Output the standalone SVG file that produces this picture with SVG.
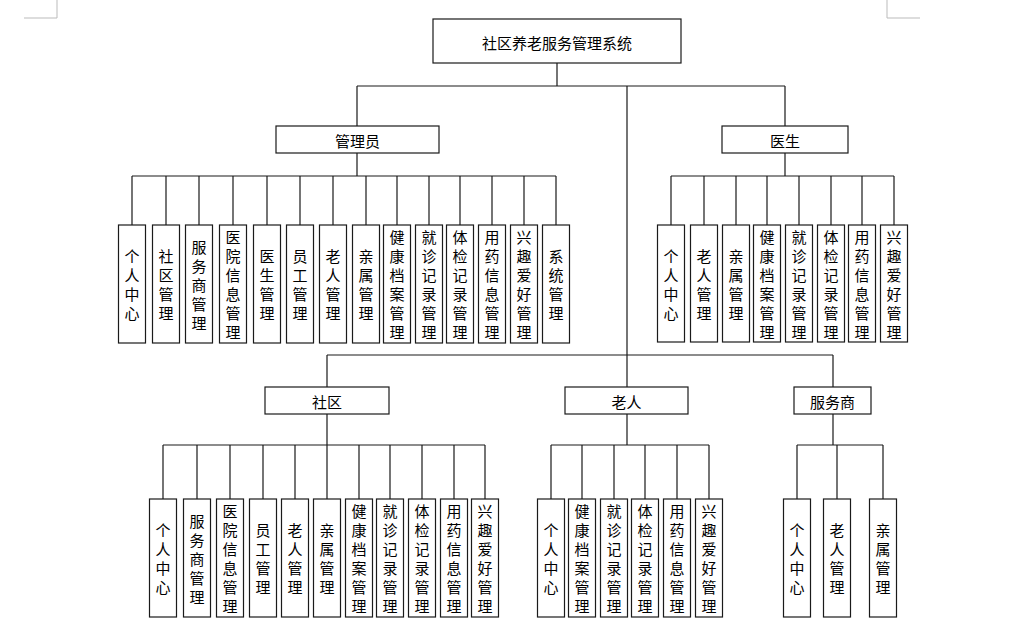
<svg xmlns="http://www.w3.org/2000/svg" width="1013" height="631" viewBox="0 0 1013 631">
<style>
.b{fill:#fff;stroke:#1a1a1a;stroke-width:1.2}
.t{font-family:"Noto Sans CJK SC","Noto Sans",sans-serif;font-size:15px;fill:#000;text-anchor:middle;dominant-baseline:central}
.c{fill:none;stroke:#1a1a1a;stroke-width:1.2}
.m{fill:none;stroke:#bbb;stroke-width:1}
</style>
<rect width="1013" height="631" fill="#fff"/>
<path class="m" d="M57 0V18H24M887 0V18H920"/>
<g id="connectors">
<path class="c" d="M557 63V86M357 86H785M357 86V126M785 86V126M627 86V387"/>
<path class="c" d="M327 355H833M327 355V387M833 355V387"/>
<path class="c" d="M357 153V176M132 176H556M132 176V225M166 176V225M199 176V225M233 176V225M267 176V225M300 176V225M333 176V225M366 176V225M397 176V225M429 176V225M460 176V225M492 176V225M524 176V225M556 176V225"/>
<path class="c" d="M785 153V176M671 176H894M671 176V225M704 176V225M736 176V225M767 176V225M799 176V225M831 176V225M862 176V225M894 176V225"/>
<path class="c" d="M327 414V445M163 445H485M163 445V499M197 445V499M230 445V499M263 445V499M295 445V499M327 445V499M359 445V499M390 445V499M422 445V499M454 445V499M485 445V499"/>
<path class="c" d="M627 414V445M551 445H709M551 445V499M582 445V499M614 445V499M645 445V499M677 445V499M709 445V499"/>
<path class="c" d="M833 414V445M797 445H883M797 445V499M837 445V499M883 445V499"/>
</g>
<g id="root"><rect class="b" x="433" y="19" width="248" height="44"/><text class="t" x="557" y="42">社区养老服务管理系统</text></g>
<g id="admin"><rect class="b" x="276" y="126" width="163" height="27"/><text class="t" x="357.5" y="140">管理员</text></g>
<g id="doctor"><rect class="b" x="722" y="126" width="126" height="27"/><text class="t" x="785" y="140">医生</text></g>
<g id="community"><rect class="b" x="265" y="387" width="124" height="27"/><text class="t" x="327" y="401">社区</text></g>
<g id="elder"><rect class="b" x="565" y="387" width="123" height="27"/><text class="t" x="626.5" y="401">老人</text></g>
<g id="provider"><rect class="b" x="794" y="387" width="77" height="27"/><text class="t" x="832.5" y="401">服务商</text></g>

<g id="a1"><rect class="b" x="118.5" y="225" width="27" height="118"/><text class="t" x="132 132 132 132" y="255.5 274.5 293.5 312.5">个人中心</text></g>
<g id="a2"><rect class="b" x="152.5" y="225" width="27" height="118"/><text class="t" x="166 166 166 166" y="255.5 274.5 293.5 312.5">社区管理</text></g>
<g id="a3"><rect class="b" x="185.5" y="225" width="27" height="118"/><text class="t" x="199 199 199 199 199" y="246 265 284 303 322">服务商管理</text></g>
<g id="a4"><rect class="b" x="219.5" y="225" width="27" height="118"/><text class="t" x="233 233 233 233 233 233" y="236.5 255.5 274.5 293.5 312.5 331.5">医院信息管理</text></g>
<g id="a5"><rect class="b" x="253.5" y="225" width="27" height="118"/><text class="t" x="267 267 267 267" y="255.5 274.5 293.5 312.5">医生管理</text></g>
<g id="a6"><rect class="b" x="286.5" y="225" width="27" height="118"/><text class="t" x="300 300 300 300" y="255.5 274.5 293.5 312.5">员工管理</text></g>
<g id="a7"><rect class="b" x="319.5" y="225" width="27" height="118"/><text class="t" x="333 333 333 333" y="255.5 274.5 293.5 312.5">老人管理</text></g>
<g id="a8"><rect class="b" x="352.5" y="225" width="27" height="118"/><text class="t" x="366 366 366 366" y="255.5 274.5 293.5 312.5">亲属管理</text></g>
<g id="a9"><rect class="b" x="383.5" y="225" width="27" height="118"/><text class="t" x="397 397 397 397 397 397" y="236.5 255.5 274.5 293.5 312.5 331.5">健康档案管理</text></g>
<g id="a10"><rect class="b" x="415.5" y="225" width="27" height="118"/><text class="t" x="429 429 429 429 429 429" y="236.5 255.5 274.5 293.5 312.5 331.5">就诊记录管理</text></g>
<g id="a11"><rect class="b" x="446.5" y="225" width="27" height="118"/><text class="t" x="460 460 460 460 460 460" y="236.5 255.5 274.5 293.5 312.5 331.5">体检记录管理</text></g>
<g id="a12"><rect class="b" x="478.5" y="225" width="27" height="118"/><text class="t" x="492 492 492 492 492 492" y="236.5 255.5 274.5 293.5 312.5 331.5">用药信息管理</text></g>
<g id="a13"><rect class="b" x="510.5" y="225" width="27" height="118"/><text class="t" x="524 524 524 524 524 524" y="236.5 255.5 274.5 293.5 312.5 331.5">兴趣爱好管理</text></g>
<g id="a14"><rect class="b" x="542.5" y="225" width="27" height="118"/><text class="t" x="556 556 556 556" y="255.5 274.5 293.5 312.5">系统管理</text></g>

<g id="d1"><rect class="b" x="657.5" y="225" width="27" height="117"/><text class="t" x="671 671 671 671" y="255.5 274.5 293.5 312.5">个人中心</text></g>
<g id="d2"><rect class="b" x="690.5" y="225" width="27" height="117"/><text class="t" x="704 704 704 704" y="255.5 274.5 293.5 312.5">老人管理</text></g>
<g id="d3"><rect class="b" x="722.5" y="225" width="27" height="117"/><text class="t" x="736 736 736 736" y="255.5 274.5 293.5 312.5">亲属管理</text></g>
<g id="d4"><rect class="b" x="753.5" y="225" width="27" height="117"/><text class="t" x="767 767 767 767 767 767" y="236.5 255.5 274.5 293.5 312.5 331.5">健康档案管理</text></g>
<g id="d5"><rect class="b" x="785.5" y="225" width="27" height="117"/><text class="t" x="799 799 799 799 799 799" y="236.5 255.5 274.5 293.5 312.5 331.5">就诊记录管理</text></g>
<g id="d6"><rect class="b" x="817.5" y="225" width="27" height="117"/><text class="t" x="831 831 831 831 831 831" y="236.5 255.5 274.5 293.5 312.5 331.5">体检记录管理</text></g>
<g id="d7"><rect class="b" x="848.5" y="225" width="27" height="117"/><text class="t" x="862 862 862 862 862 862" y="236.5 255.5 274.5 293.5 312.5 331.5">用药信息管理</text></g>
<g id="d8"><rect class="b" x="880.5" y="225" width="27" height="117"/><text class="t" x="894 894 894 894 894 894" y="236.5 255.5 274.5 293.5 312.5 331.5">兴趣爱好管理</text></g>

<g id="c1"><rect class="b" x="149.5" y="499" width="27" height="118"/><text class="t" x="163 163 163 163" y="529.5 548.5 567.5 586.5">个人中心</text></g>
<g id="c2"><rect class="b" x="183.5" y="499" width="27" height="118"/><text class="t" x="197 197 197 197 197" y="520 539 558 577 596">服务商管理</text></g>
<g id="c3"><rect class="b" x="216.5" y="499" width="27" height="118"/><text class="t" x="230 230 230 230 230 230" y="510.5 529.5 548.5 567.5 586.5 605.5">医院信息管理</text></g>
<g id="c4"><rect class="b" x="249.5" y="499" width="27" height="118"/><text class="t" x="263 263 263 263" y="529.5 548.5 567.5 586.5">员工管理</text></g>
<g id="c5"><rect class="b" x="281.5" y="499" width="27" height="118"/><text class="t" x="295 295 295 295" y="529.5 548.5 567.5 586.5">老人管理</text></g>
<g id="c6"><rect class="b" x="313.5" y="499" width="27" height="118"/><text class="t" x="327 327 327 327" y="529.5 548.5 567.5 586.5">亲属管理</text></g>
<g id="c7"><rect class="b" x="345.5" y="499" width="27" height="118"/><text class="t" x="359 359 359 359 359 359" y="510.5 529.5 548.5 567.5 586.5 605.5">健康档案管理</text></g>
<g id="c8"><rect class="b" x="376.5" y="499" width="27" height="118"/><text class="t" x="390 390 390 390 390 390" y="510.5 529.5 548.5 567.5 586.5 605.5">就诊记录管理</text></g>
<g id="c9"><rect class="b" x="408.5" y="499" width="27" height="118"/><text class="t" x="422 422 422 422 422 422" y="510.5 529.5 548.5 567.5 586.5 605.5">体检记录管理</text></g>
<g id="c10"><rect class="b" x="440.5" y="499" width="27" height="118"/><text class="t" x="454 454 454 454 454 454" y="510.5 529.5 548.5 567.5 586.5 605.5">用药信息管理</text></g>
<g id="c11"><rect class="b" x="471.5" y="499" width="27" height="118"/><text class="t" x="485 485 485 485 485 485" y="510.5 529.5 548.5 567.5 586.5 605.5">兴趣爱好管理</text></g>

<g id="e1"><rect class="b" x="537.5" y="499" width="27" height="118"/><text class="t" x="551 551 551 551" y="529.5 548.5 567.5 586.5">个人中心</text></g>
<g id="e2"><rect class="b" x="568.5" y="499" width="27" height="118"/><text class="t" x="582 582 582 582 582 582" y="510.5 529.5 548.5 567.5 586.5 605.5">健康档案管理</text></g>
<g id="e3"><rect class="b" x="600.5" y="499" width="27" height="118"/><text class="t" x="614 614 614 614 614 614" y="510.5 529.5 548.5 567.5 586.5 605.5">就诊记录管理</text></g>
<g id="e4"><rect class="b" x="631.5" y="499" width="27" height="118"/><text class="t" x="645 645 645 645 645 645" y="510.5 529.5 548.5 567.5 586.5 605.5">体检记录管理</text></g>
<g id="e5"><rect class="b" x="663.5" y="499" width="27" height="118"/><text class="t" x="677 677 677 677 677 677" y="510.5 529.5 548.5 567.5 586.5 605.5">用药信息管理</text></g>
<g id="e6"><rect class="b" x="695.5" y="499" width="27" height="118"/><text class="t" x="709 709 709 709 709 709" y="510.5 529.5 548.5 567.5 586.5 605.5">兴趣爱好管理</text></g>

<g id="p1"><rect class="b" x="783.5" y="499" width="27" height="118"/><text class="t" x="797 797 797 797" y="529.5 548.5 567.5 586.5">个人中心</text></g>
<g id="p2"><rect class="b" x="823.5" y="499" width="27" height="118"/><text class="t" x="837 837 837 837" y="529.5 548.5 567.5 586.5">老人管理</text></g>
<g id="p3"><rect class="b" x="869.5" y="499" width="27" height="118"/><text class="t" x="883 883 883 883" y="529.5 548.5 567.5 586.5">亲属管理</text></g>
</svg>
